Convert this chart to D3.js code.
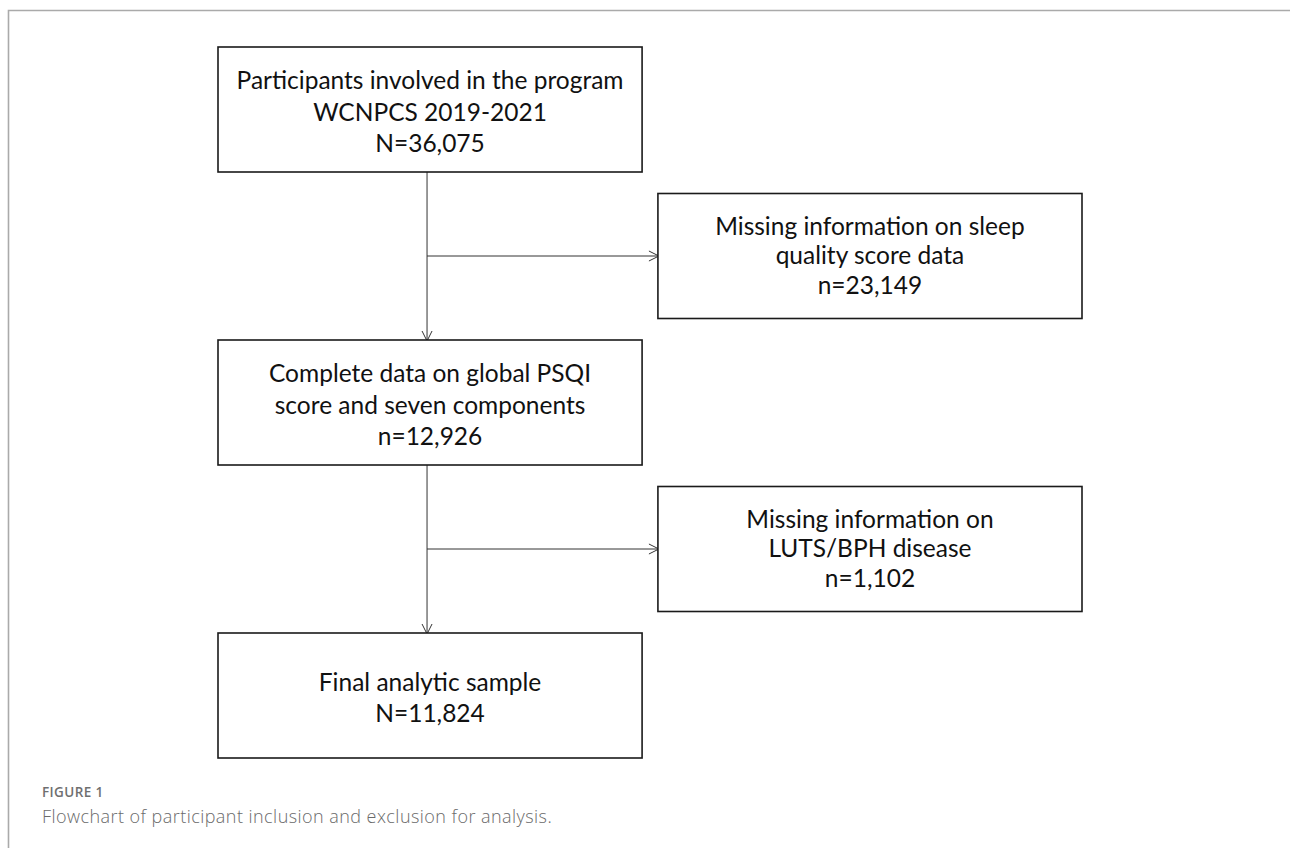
<!DOCTYPE html>
<html>
<head>
<meta charset="utf-8">
<script src="https://cdn.jsdelivr.net/npm/d3@7"></script>
<style>
  html, body { margin: 0; padding: 0; background: #fff; }
  #chart { width: 1290px; height: 848px; }
</style>
</head>
<body>
<div id="chart"></div>
<script>
(function () {

  // Flow steps (left column) and exclusions (right column)
  const stepLabels = [
    ["Participants involved in the program", "WCNPCS 2019-2021"],
    ["Complete data on global PSQI", "score and seven components"],
    ["Final analytic sample"]
  ]
  const stepCounts = ["N=36,075", "n=12,926", "N=11,824"]

  const exclusionLabels = [
    ["Missing information on sleep", "quality score data"],
    ["Missing information on", "LUTS/BPH disease"]
  ]
  const exclusionCounts = ["n=23,149", "n=1,102"]

  const figureLabel = "FIGURE 1"
  const figureCaption = "Flowchart of participant inclusion and exclusion for analysis."

  const width = 1290
  const height = 848

  const svg = d3.select("#chart").append("svg")
      .attr("width", width)
      .attr("height", height)

  // Page frame (top + left rule)
  svg.append("path")
    .attr("d", "M8.5,848 L8.5,10.5 L1290,10.5")
    .attr("fill", "none")
    .attr("stroke", "#aaaaaa")
    .attr("stroke-width", 1.6)

  // Layout scales: rows go step, exclusion, step, exclusion, step
  const rowScale = d3.scaleLinear()
    .domain([0, 4])
    .range([47, 633])

  const colScale = d3.scaleBand()
    .domain(["step", "excluded"])
    .range([218, 1082])
    .paddingInner(0.036)

  const boxH = 125
  // line spacing / baseline offset differ a little between the two columns
  const textStyle = {
    step: { lineH: 31.5, dy: 11 },
    excluded: { lineH: 29.5, dy: 8 }
  }
  const trunkX = colScale("step") + colScale.bandwidth() / 2 - 3

  const steps = stepLabels.map((lines, i) => ({
    col: "step", row: i * 2, lines: lines.concat([stepCounts[i]])
  }))
  const exclusions = exclusionLabels.map((lines, i) => ({
    col: "excluded", row: i * 2 + 1, lines: lines.concat([exclusionCounts[i]])
  }))
  const boxes = steps.concat(exclusions)

  // Arrow marker (open V)
  svg.append("defs").append("marker")
    .attr("id", "arrow")
    .attr("viewBox", "0 0 12 12")
    .attr("refX", 11)
    .attr("refY", 6)
    .attr("markerWidth", 12)
    .attr("markerHeight", 12)
    .attr("markerUnits", "userSpaceOnUse")
    .attr("orient", "auto")
    .append("path")
    .attr("d", "M1,1 L11,6 L1,11")
    .attr("fill", "none")
    .attr("stroke", "#333")
    .attr("stroke-width", 1)

  // Vertical connectors between steps
  const links = d3.range(steps.length - 1).map(i => ({
    y1: rowScale(steps[i].row) + boxH,
    y2: rowScale(steps[i + 1].row) + 1
  }))
  svg.selectAll("line.down")
    .data(links)
    .join("line")
    .attr("class", "down")
    .attr("x1", trunkX)
    .attr("x2", trunkX)
    .attr("y1", d => d.y1)
    .attr("y2", d => d.y2)
    .attr("stroke", "#333")
    .attr("stroke-width", 1)
    .attr("marker-end", "url(#arrow)")

  // Side arrows into exclusion boxes
  svg.selectAll("line.side")
    .data(exclusions)
    .join("line")
    .attr("class", "side")
    .attr("x1", trunkX)
    .attr("x2", colScale("excluded") + 1)
    .attr("y1", d => rowScale(d.row) + boxH / 2)
    .attr("y2", d => rowScale(d.row) + boxH / 2)
    .attr("stroke", "#333")
    .attr("stroke-width", 1)
    .attr("marker-end", "url(#arrow)")

  // Boxes
  const g = svg.selectAll("g.box")
    .data(boxes)
    .join("g")
    .attr("class", "box")
    .attr("transform", d => "translate(" + colScale(d.col) + "," + rowScale(d.row) + ")")

  g.append("rect")
    .attr("width", colScale.bandwidth())
    .attr("height", boxH)
    .attr("fill", "#fff")
    .attr("stroke", "#1a1a1a")
    .attr("stroke-width", 1.6)

  g.append("text")
    .attr("text-anchor", "middle")
    .attr("font-family", "Lato, 'Open Sans', sans-serif")
    .attr("font-size", 24.5)
    .attr("fill", "#111")
    .selectAll("tspan")
    .data(d => d.lines.map((t, i) => ({ t, i, n: d.lines.length, s: textStyle[d.col] })))
    .join("tspan")
    .attr("x", colScale.bandwidth() / 2)
    .attr("y", d => boxH / 2 + d.s.dy + (d.i - (d.n - 1) / 2) * d.s.lineH)
    .text(d => d.t)

  // Caption
  svg.append("text")
    .attr("x", 42)
    .attr("y", 797)
    .attr("font-family", "'Open Sans', sans-serif")
    .attr("font-weight", 600)
    .attr("font-size", 13.5)
    .attr("letter-spacing", 0.4)
    .attr("fill", "#6f6f6f")
    .text(figureLabel)

  svg.append("text")
    .attr("x", 42)
    .attr("y", 823)
    .attr("font-family", "'Open Sans', sans-serif")
    .attr("font-weight", 300)
    .attr("font-size", 18)
    .attr("letter-spacing", 0.45)
    .attr("fill", "#6a6a6a")
    .text(figureCaption)

})();
</script>
</body>
</html>
